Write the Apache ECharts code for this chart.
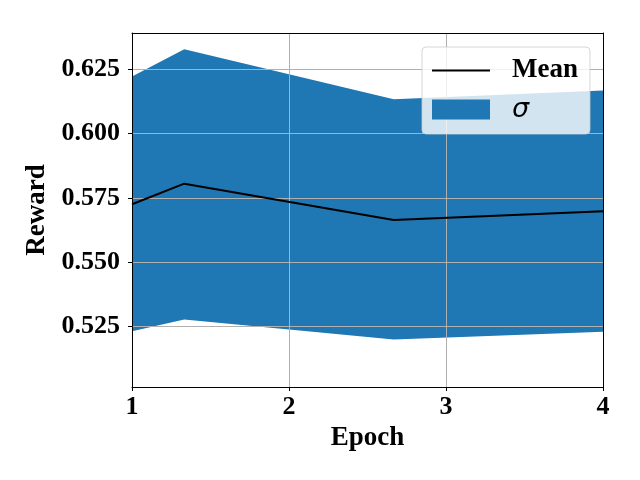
<!DOCTYPE html>
<html lang="en">
  <head>
    <meta charset="UTF-8" />
    <title>Reward vs Epoch</title>
    <script src="https://cdn.jsdelivr.net/npm/echarts@6/dist/echarts.min.js"></script>
    <style>
      html, body { margin: 0; padding: 0; background: #fff; }
      #chart { width: 640px; height: 480px; }
    </style>
  </head>
  <body>
    <div id="chart"></div>
    <script>
      // values
      const epochs = [1, 1.333, 2.667, 4]
      const meanReward = [0.5725, 0.5805, 0.5664, 0.5698]
      const upperSigma = [0.6222, 0.6328, 0.6133, 0.6167]
      const lowerSigma = [0.5231, 0.5277, 0.5199, 0.5229]
      const xTicks = [1, 2, 3, 4]
      const yTicks = [0.525, 0.55, 0.575, 0.6, 0.625]

      const font = 'Liberation Serif, Times New Roman, serif'
      const chart = echarts.init(document.getElementById('chart'))

      const meanData = epochs.map((x, i) => [x, meanReward[i]])
      const bandData = epochs.map((x, i) => [x, lowerSigma[i], upperSigma[i]])

      // fill between lower and upper as one polygon (drawn once)
      function renderBand(params, api) {
        if (params.dataIndex !== 0) return
        const top = epochs.map((x, i) => api.coord([x, upperSigma[i]]))
        const bottom = epochs.map((x, i) => api.coord([x, lowerSigma[i]])).reverse()
        return {
          type: 'polygon',
          shape: { points: top.concat(bottom) },
          style: { fill: '#1f77b4' }
        }
      }

      const frameAxis = {
        show: true,
        axisLine: { show: true, onZero: false, lineStyle: { color: '#000', width: 1 } },
        axisTick: { show: false },
        axisLabel: { show: false },
        splitLine: { show: false },
        z: 3
      }

      const option = {
        animation: false,
        grid: { left: 132, right: 37, top: 33, bottom: 93 },
        legend: {
          orient: 'vertical',
          left: 422,
          top: 47,
          padding: [10, 12, 11, 9],
          itemGap: 12,
          itemWidth: 58,
          itemHeight: 20,
          backgroundColor: 'rgba(255,255,255,0.8)',
          borderColor: 'rgba(204,204,204,0.8)',
          borderWidth: 1,
          borderRadius: 4,
          data: [
            { name: 'Mean', itemStyle: { opacity: 0 } },
            { name: 'σ', icon: 'rect', itemStyle: { color: '#1f77b4' } }
          ],
          formatter: name => (name === 'Mean' ? '{m|Mean}' : '{s|σ}'),
          textStyle: {
            padding: [0, 0, 0, 17],
            rich: {
              m: { fontFamily: font, fontWeight: 'bold', fontSize: 27, color: '#000', lineHeight: 30 },
              s: { fontFamily: 'DejaVu Sans', fontStyle: 'italic', fontSize: 27, color: '#000', lineHeight: 30 }
            }
          },
          z: 10
        },
        xAxis: [
          {
            type: 'value',
            min: 1,
            max: 4,
            interval: 1,
            name: 'Epoch',
            nameLocation: 'middle',
            nameGap: 32,
            nameTextStyle: { fontFamily: font, fontWeight: 'bold', fontSize: 27, color: '#000' },
            axisLine: { show: true, onZero: false, lineStyle: { color: '#000', width: 1 } },
            axisTick: { show: true, inside: false, length: 4, lineStyle: { color: '#000' }, customValues: xTicks },
            axisLabel: { fontFamily: font, fontWeight: 'bold', fontSize: 26, color: '#000', margin: 7, customValues: xTicks },
            splitLine: { show: true, lineStyle: { color: '#b0b0b0', width: 1 } },
            z: 2
          },
          Object.assign({ type: 'value', position: 'top', min: 1, max: 4 }, frameAxis)
        ],
        yAxis: [
          {
            type: 'value',
            min: 0.5014,
            max: 0.6391,
            minInterval: 0.025,
            maxInterval: 0.025,
            name: 'Reward',
            nameLocation: 'middle',
            nameGap: 78,
            nameTextStyle: { fontFamily: font, fontWeight: 'bold', fontSize: 27, color: '#000' },
            axisLine: { show: true, onZero: false, lineStyle: { color: '#000', width: 1 } },
            axisTick: { show: true, inside: false, length: 4, lineStyle: { color: '#000' }, customValues: yTicks },
            axisLabel: {
              fontFamily: font, fontWeight: 'bold', fontSize: 26, color: '#000', margin: 12,
              customValues: yTicks,
              formatter: v => v.toFixed(3)
            },
            splitLine: { show: true, lineStyle: { color: '#b0b0b0', width: 1 } },
            z: 2
          },
          Object.assign({ type: 'value', position: 'right', min: 0.5014, max: 0.6391 }, frameAxis)
        ],
        series: [
          {
            name: 'σ',
            type: 'custom',
            data: bandData,
            encode: { x: 0, y: [1, 2] },
            renderItem: renderBand,
            itemStyle: { color: '#1f77b4' },
            silent: true,
            z: 1
          },
          {
            name: 'Mean',
            type: 'line',
            data: meanData,
            symbol: 'none',
            lineStyle: { color: '#000', width: 2 },
            itemStyle: { color: '#000' },
            z: 5
          }
        ]
      }
      chart.setOption(option)
    </script>
  </body>
</html>
